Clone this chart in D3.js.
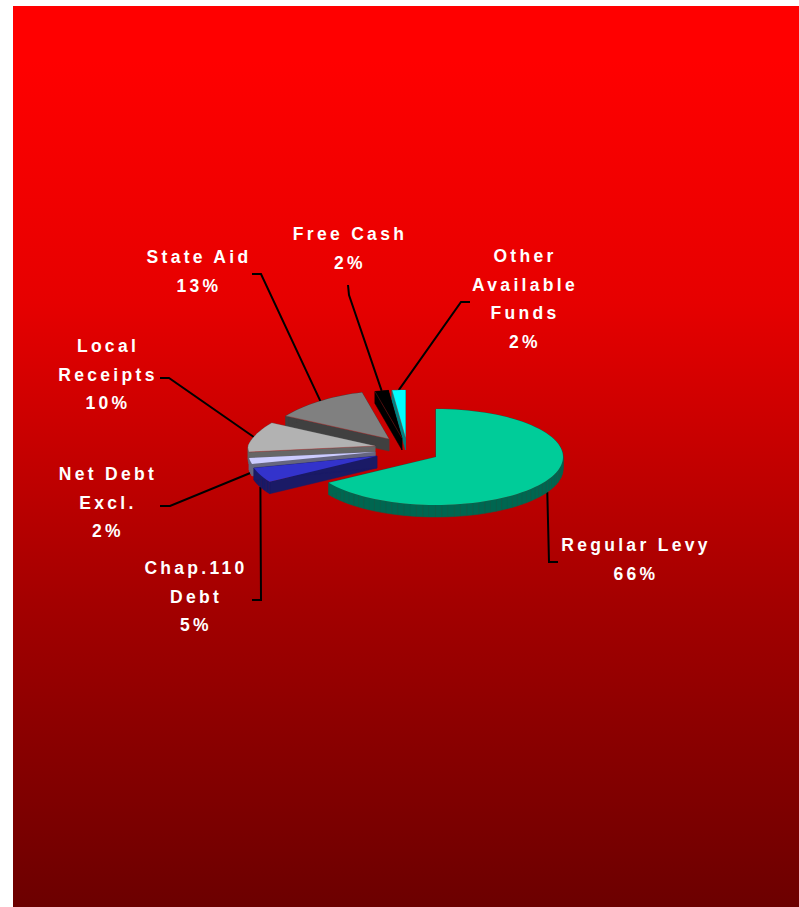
<!DOCTYPE html>
<html>
<head>
<meta charset="utf-8">
<script src="https://cdn.jsdelivr.net/npm/d3@7"></script>
<style>
  html, body { margin: 0; padding: 0; background: #fff; }
  svg { display: block; }
  text { font-family: "Liberation Sans", Arial, sans-serif; font-weight: 700; font-size: 17.5px; letter-spacing: 3.3px; fill: #fff; text-anchor: middle; }
</style>
</head>
<body>
<div id="chart"></div>
<script>
// Budget revenue sources, clockwise from twelve o'clock.
const categories = ["Regular Levy", "Chap.110 Debt", "Net Debt Excl.", "Local Receipts", "State Aid", "Free Cash", "Other Available Funds"];
const shares = [66, 5, 2, 10, 13, 2, 2];
const labelLines = [["Regular Levy"], ["Chap.110", "Debt"], ["Net Debt", "Excl."], ["Local", "Receipts"], ["State Aid"], ["Free Cash"], ["Other", "Available", "Funds"]];

// Slice styling and how far each wedge is pulled out, in pie-plane units.
const topColors = ["#00CC99", "#3333CC", "#CCCCFF", "#B2B2B2", "#808080", "#000000", "#00FFFF"];
const wallColors = ["#006650", "#1A1A66", "#666680", "#666666", "#404040", "#000000", "#008080"];
const explodeU = [0, -0.465, -0.480, -0.480, -0.370, -0.268, -0.240];
const explodeV = [0, 0.02, 0.104, 0.229, 0.375, 0.396, 0.396];
const taper = [0, 0.15, 0.15, 0.15, 0.15, 0.15, 0.15];

// Label placement: centre x, first baseline, and the elbow of the leader line.
const labelX = [636, 196, 108, 108, 199, 350, 525];
const labelY = [551, 574, 480, 352, 263, 240, 262];
const leaderStartX = [558, 252, 160, 160, 252, 348, 470];
const leaderStartY = [562, 600, 506, 378, 274, 285, 302];
const leaderKneeX = [549, 261, 170, 169, 261, 349, 461];
const leaderKneeY = [562, 600, 506, 378, 274, 295, 302];

// Backdrop shade: offset down the frame and red channel value.
const shadeOffsets = [0.06, 0.33, 0.49, 0.66, 0.825, 1];
const shadeReds = [255, 230, 198, 164, 136, 108];

const width = 799, height = 907;
const frame = { left: 13, top: 6 };
const lineGap = 28.7, depth = 12;

const svg = d3.select("#chart").append("svg").attr("width", width).attr("height", height);

const gradient = svg.append("defs").append("linearGradient")
  .attr("id", "backdrop").attr("x1", 0).attr("y1", 0).attr("x2", 0).attr("y2", 1);
shadeOffsets.forEach((o, i) => {
  gradient.append("stop").attr("offset", o).attr("stop-color", d3.rgb(shadeReds[i], 0, 0).formatHex());
});

svg.append("rect").attr("x", frame.left).attr("y", frame.top)
  .attr("width", width - frame.left).attr("height", height - frame.top)
  .attr("fill", "url(#backdrop)");

// Pie plane to screen: an ellipse seen from above.
const xScale = d3.scaleLinear().domain([-1, 1]).range([309, 563]);
const yScale = d3.scaleLinear().domain([-1, 1]).range([505, 409]);

const arcs = d3.pie().sort(null).startAngle(0).endAngle(2 * Math.PI)(shares);

// Screen position of a rim point of slice i; far-side points narrow slightly.
function rimPoint(i, angle, radius = 1) {
  const u = Math.sin(angle) * radius, v = Math.cos(angle) * radius;
  const squeeze = 1 - taper[i] * Math.max(v, 0);
  return [xScale(explodeU[i] + u * squeeze), yScale(explodeV[i] + v)];
}

function outline(i) {
  const a = arcs[i];
  const steps = Math.max(2, Math.ceil((a.endAngle - a.startAngle) / 0.05));
  const rim = d3.range(steps + 1).map(k => rimPoint(i, a.startAngle + (a.endAngle - a.startAngle) * k / steps));
  return [rimPoint(i, 0, 0), ...rim];
}

const line = d3.line();

// Leader lines run from the label to the rim at each slice's mid-angle.
arcs.forEach((a, i) => {
  const mid = (a.startAngle + a.endAngle) / 2;
  const end = rimPoint(i, mid);
  if (Math.cos(mid) < 0) end[1] += depth;
  svg.append("path")
    .attr("d", line([[leaderStartX[i], leaderStartY[i]], [leaderKneeX[i], leaderKneeY[i]], end]))
    .attr("fill", "none").attr("stroke", "#000").attr("stroke-width", 2);
});

// Paint far wedges first so nearer ones overlap them; the large slice goes last.
d3.range(arcs.length - 1, -1, -1).forEach(i => {
  const pts = outline(i);
  const g = svg.append("g").attr("class", "slice");
  pts.forEach((p, k) => {
    const q = pts[(k + 1) % pts.length];
    g.append("path")
      .attr("d", line([p, q, [q[0], q[1] + depth], [p[0], p[1] + depth]]) + "Z")
      .attr("fill", wallColors[i]).attr("stroke", wallColors[i]).attr("stroke-width", 0.5);
  });
  g.append("path").attr("d", line(pts) + "Z").attr("fill", topColors[i]);
  // Hairline seam where the far wedges' cut face meets the top.
  if (explodeV[i] > 0.2) {
    g.append("path").attr("d", line([pts[0], pts[1]]))
      .attr("fill", "none").attr("stroke", "#A02020").attr("stroke-width", 0.4);
  }
});

// Category names with the percentage on the final line.
categories.forEach((name, i) => {
  const rows = [...labelLines[i], shares[i] + "%"];
  const t = svg.append("text").attr("aria-label", name);
  rows.forEach((row, r) => {
    t.append("tspan").attr("x", labelX[i]).attr("y", labelY[i] + r * lineGap).text(row);
  });
});
</script>
</body>
</html>
